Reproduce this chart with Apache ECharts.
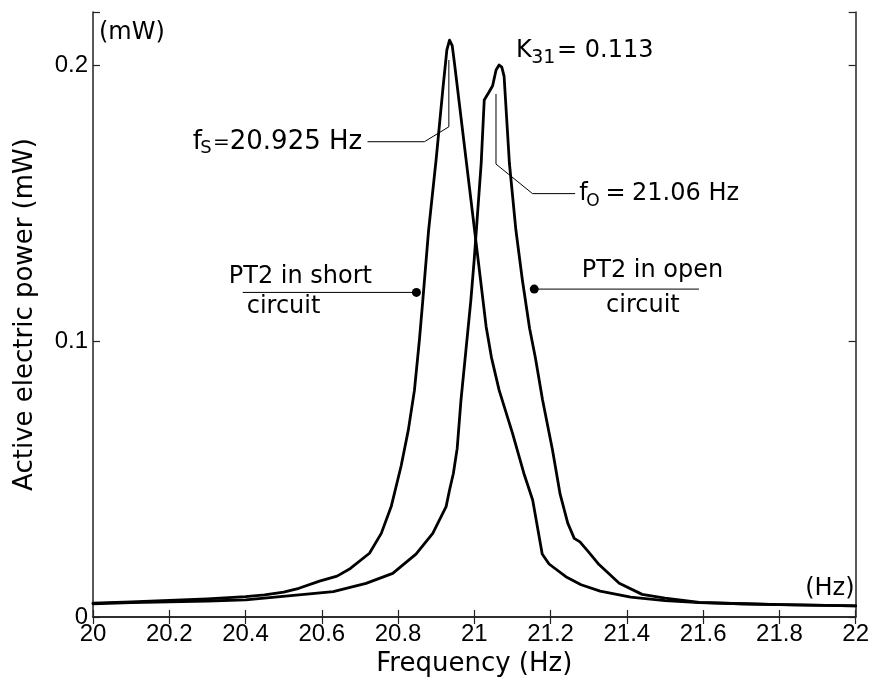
<!DOCTYPE html>
<html><head><meta charset="utf-8">
<script src="https://cdn.jsdelivr.net/npm/echarts@6/dist/echarts.min.js"></script>
<style>html,body{margin:0;padding:0;background:#fff}#c{width:872px;height:691px}</style>
</head><body><div id="c"></div>
<script>
// ---- data ----
const shortFreq  = [20.00, 20.10, 20.20, 20.30, 20.40, 20.45, 20.50, 20.54, 20.594, 20.64, 20.675, 20.725, 20.756, 20.782, 20.808, 20.827, 20.843, 20.856, 20.865, 20.88, 20.90, 20.918, 20.928, 20.935, 20.942, 20.948, 20.97, 20.99, 21.01, 21.031, 21.045, 21.065, 21.10, 21.13, 21.153, 21.178, 21.196, 21.24, 21.28, 21.33, 21.41, 21.50, 21.59, 21.70, 21.80, 22.00];
const shortPower = [0.0050, 0.0055, 0.0060, 0.0066, 0.0074, 0.0080, 0.0090, 0.0104, 0.0130, 0.0148, 0.0176, 0.0231, 0.0303, 0.0400, 0.0547, 0.0678, 0.0822, 0.1004, 0.1149, 0.1400, 0.1660, 0.1920, 0.2055, 0.2090, 0.2070, 0.2006, 0.1753, 0.1524, 0.1294, 0.1052, 0.0940, 0.0822, 0.0666, 0.0520, 0.0424, 0.0228, 0.0192, 0.0146, 0.0117, 0.0094, 0.0072, 0.0059, 0.0052, 0.0048, 0.0045, 0.0040];

const openFreq  = [20.00, 20.10, 20.20, 20.30, 20.40, 20.54, 20.63, 20.716, 20.786, 20.847, 20.891, 20.926, 20.935, 20.945, 20.955, 20.965, 20.978, 20.991, 21.00, 21.018, 21.026, 21.039, 21.048, 21.057, 21.065, 21.072, 21.078, 21.092, 21.109, 21.126, 21.145, 21.16, 21.179, 21.205, 21.225, 21.245, 21.262, 21.277, 21.30, 21.327, 21.38, 21.44, 21.50, 21.59, 21.70, 21.80, 22.00];
const openPower = [0.0048, 0.0052, 0.0055, 0.0058, 0.0062, 0.0080, 0.0092, 0.0122, 0.0158, 0.0228, 0.0303, 0.0400, 0.0460, 0.0520, 0.0610, 0.0786, 0.0967, 0.1149, 0.1300, 0.1644, 0.1873, 0.1903, 0.1925, 0.1982, 0.2000, 0.1992, 0.1960, 0.1644, 0.1402, 0.1221, 0.1045, 0.0940, 0.0786, 0.0605, 0.0445, 0.0340, 0.0285, 0.0272, 0.0235, 0.0190, 0.0122, 0.0082, 0.0068, 0.0053, 0.0048, 0.0045, 0.0040];

const xTickLabels = ['20', '20.2', '20.4', '20.6', '20.8', '21', '21.2', '21.4', '21.6', '21.8', '22'];
const yTickLabels = ['0', '0.1', '0.2'];

// ---- annotations (data coordinates) ----
const annoTexts = [
  {t: '(mW)', f: 20.0157, p: 0.2116, size: 24, align: 'left'},
  {t: '(Hz)', f: 21.997, p: 0.0101, size: 24, align: 'right'},
  {t: 'K', f: 21.109, p: 0.2051, size: 24, align: 'left'},
  {t: '31', f: 21.149, p: 0.2024, size: 19, align: 'left'},
  {t: '= 0.113', f: 21.217, p: 0.2051, size: 24, align: 'left'},
  {t: 'f', f: 20.2618, p: 0.1719, size: 26, align: 'left'},
  {t: 'S', f: 20.2814, p: 0.1697, size: 18, align: 'left'},
  {t: '=', f: 20.3364, p: 0.1719, size: 20, align: 'center'},
  {t: '20.925 Hz', f: 20.3586, p: 0.1719, size: 26, align: 'left'},
  {t: 'f', f: 21.2749, p: 0.1533, size: 24, align: 'left'},
  {t: 'O', f: 21.2932, p: 0.1505, size: 17, align: 'left'},
  {t: '=', f: 21.3704, p: 0.1533, size: 24, align: 'center'},
  {t: '21.06 Hz', f: 21.4136, p: 0.1533, size: 24, align: 'left'},
  {t: 'PT2 in short', f: 20.356, p: 0.1232, size: 24, align: 'left'},
  {t: 'circuit', f: 20.4031, p: 0.1123, size: 24, align: 'left'},
  {t: 'PT2 in open', f: 21.2817, p: 0.1254, size: 24, align: 'left'},
  {t: 'circuit', f: 21.3455, p: 0.1127, size: 24, align: 'left'}
];
const annoLines = [
  [[20.7199, 0.1722], [20.8691, 0.1722], [20.9332, 0.1776], [20.9332, 0.2018]],
  [[21.0568, 0.1895], [21.0568, 0.1641], [21.1526, 0.1534], [21.2644, 0.1534]],
  [[20.3927, 0.1176], [20.8482, 0.1176]],
  [[21.1571, 0.1188], [21.589, 0.1188]]
];
const annoDots = [[20.8482, 0.1176], [21.1571, 0.1188]];

const chart = echarts.init(document.getElementById('c'), null, {renderer: 'canvas'});
const tickFont = 'Liberation Sans';
const textFont = 'DejaVu Sans';
const axisLineStyle = {color: '#222', width: 1.5};

function xFmt(v) {
  const i = Math.round((v - 20) / 0.2);
  return (Math.abs(v - (20 + i * 0.2)) < 1e-6 && xTickLabels[i] !== undefined) ? xTickLabels[i] : '';
}
function yFmt(v) {
  const i = Math.round(v / 0.1);
  return (Math.abs(v - i * 0.1) < 1e-6 && yTickLabels[i] !== undefined) ? yTickLabels[i] : '';
}

const option = {
  animation: false,
  backgroundColor: '#fff',
  grid: {left: 93, right: 15, top: 12, bottom: 74, containLabel: false},
  xAxis: [{
    type: 'value', min: 20, max: 22, interval: 0.2, position: 'bottom',
    name: 'Frequency (Hz)', nameLocation: 'middle', nameGap: 31,
    nameTextStyle: {fontFamily: textFont, fontSize: 26, color: '#000'},
    axisLine: {show: true, lineStyle: axisLineStyle},
    axisTick: {show: true, inside: true, length: 7, lineStyle: {color: '#222', width: 1.2}},
    axisLabel: {show: true, margin: 5, formatter: xFmt, fontFamily: tickFont, fontSize: 24, color: '#000', showMinLabel: true, showMaxLabel: true},
    splitLine: {show: false}
  }, {
    type: 'value', min: 20, max: 22, interval: 0.2, position: 'top',
    axisLine: {show: true, lineStyle: axisLineStyle},
    axisTick: {show: true, inside: true, length: 7, lineStyle: {color: '#222', width: 1.2}},
    axisLabel: {show: false}, splitLine: {show: false}
  }],
  yAxis: [{
    type: 'value', min: 0, max: 0.2192, interval: 0.1, position: 'left',
    name: 'Active electric power (mW)', nameLocation: 'middle', nameGap: 55,
    nameTextStyle: {fontFamily: textFont, fontSize: 26, color: '#000'},
    axisLine: {show: true, lineStyle: axisLineStyle},
    axisTick: {show: true, inside: true, length: 7, lineStyle: {color: '#222', width: 1.2}},
    axisLabel: {show: true, margin: 5, formatter: yFmt, fontFamily: tickFont, fontSize: 24, color: '#000'},
    splitLine: {show: false}
  }, {
    type: 'value', min: 0, max: 0.2192, interval: 0.1, position: 'right',
    axisLine: {show: true, lineStyle: axisLineStyle},
    axisTick: {show: true, inside: true, length: 7, lineStyle: {color: '#222', width: 1.2}},
    axisLabel: {show: false}, splitLine: {show: false}
  }],
  series: [{
    name: 'PT2 in short circuit', type: 'line', xAxisIndex: 0, yAxisIndex: 0,
    data: shortFreq.map((f, i) => [f, shortPower[i]]),
    showSymbol: false, smooth: false,
    lineStyle: {color: '#000', width: 2.8, join: 'round', cap: 'round'}
  }, {
    name: 'PT2 in open circuit', type: 'line', xAxisIndex: 0, yAxisIndex: 0,
    data: openFreq.map((f, i) => [f, openPower[i]]),
    showSymbol: false, smooth: false,
    lineStyle: {color: '#000', width: 2.8, join: 'round', cap: 'round'}
  }]
};
chart.setOption(option);

function px(pt) { return chart.convertToPixel({xAxisIndex: 0, yAxisIndex: 0}, pt); }
const graphics = [];
annoLines.forEach(pts => {
  graphics.push({type: 'polyline', silent: true, z: 50,
    shape: {points: pts.map(px)}, style: {stroke: '#000', lineWidth: 1, fill: null}});
});
annoDots.forEach(d => {
  const p = px(d);
  graphics.push({type: 'circle', silent: true, z: 51, shape: {cx: p[0], cy: p[1], r: 4.5}, style: {fill: '#000'}});
});
annoTexts.forEach(a => {
  const p = px([a.f, a.p]);
  graphics.push({type: 'text', silent: true, z: 52, x: p[0], y: p[1],
    style: {text: a.t, font: a.size + 'px "' + textFont + '"', fill: '#000',
      align: a.align, textAlign: a.align, verticalAlign: 'middle', textVerticalAlign: 'middle'}});
});
chart.setOption({graphic: graphics});
</script>
</body></html>
